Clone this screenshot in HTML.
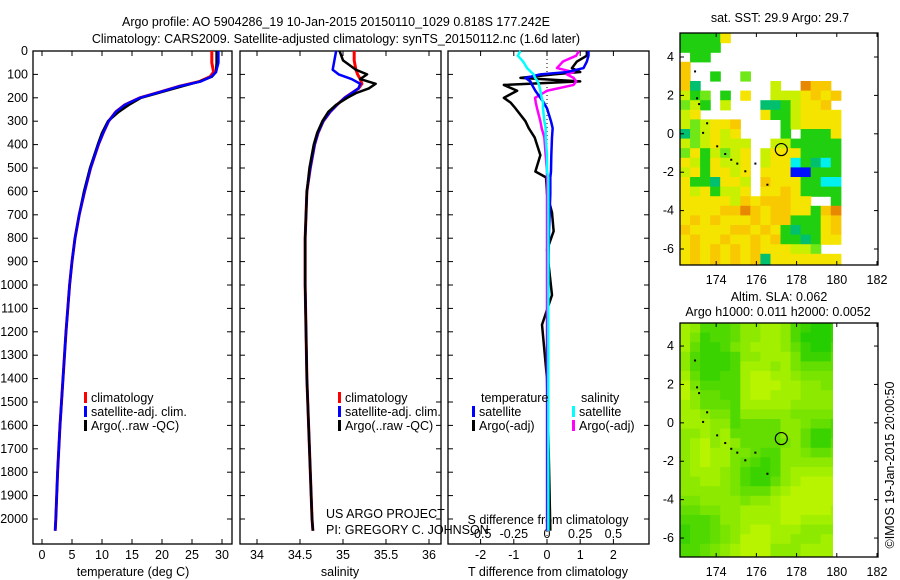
<!DOCTYPE html>
<html><head><meta charset="utf-8"><style>
body{margin:0;background:#fff}
svg{display:block;font-family:"Liberation Sans",sans-serif;font-size:12.5px}
</style></head><body>
<svg id="c" width="900" height="580"></svg>
<script>
// ---------- data ----------
const tDepth=[0,50,90,110,130,150,175,200,230,260,300,350,400,500,600,700,800,900,1000,1200,1400,1600,1800,2000,2050];
const tClim=[28.3,28.3,28.6,28.0,26.3,23,19.7,16.3,13.8,12.3,11.1,10.2,9.4,8.1,7.1,6.2,5.5,5.0,4.6,4.0,3.5,3.0,2.6,2.3,2.2];
const tSat=[29.4,29.4,29.0,28.2,26.5,23,19.7,16.3,13.8,12.3,11.1,10.2,9.4,8.1,7.1,6.2,5.5,5.0,4.6,4.0,3.5,3.0,2.6,2.3,2.2];
const tArgo=[29.1,29.1,29.0,28.3,26.3,23.5,20,16.5,14.5,12.8,11.0,10.0,9.3,8.0,7.0,6.2,5.5,5.0,4.6,4.0,3.5,3.0,2.6,2.3,2.2];
const sDepth=[0,40,80,100,120,140,160,180,200,230,260,300,350,400,500,600,800,1000,1200,1400,1600,1800,2000,2050];
const sClim=[35.13,35.13,35.15,35.17,35.2,35.22,35.18,35.1,35.02,34.93,34.85,34.77,34.71,34.67,34.62,34.58,34.56,34.56,34.57,34.58,34.6,34.62,34.64,34.65];
const sSat=[34.92,34.9,34.88,34.95,35.1,35.2,35.18,35.1,35.02,34.93,34.85,34.77,34.71,34.67,34.62,34.58,34.56,34.56,34.57,34.58,34.6,34.62,34.64,34.65];
const sArgo=[34.96,35.0,35.15,35.28,35.2,35.38,35.3,35.15,35.05,34.92,34.83,34.76,34.7,34.66,34.61,34.58,34.56,34.56,34.57,34.58,34.6,34.62,34.64,34.65];
const dDepth=[0,20,45,73,90,100,115,130,145,170,200,220,245,300,330,370,445,515,540,610,690,770,850,1043,1170,1400,1700,2050];
const tdSat=[1.25,1.25,1.2,1.1,0.6,-0.2,-0.65,-0.5,-0.45,-0.35,-0.2,-0.1,0.0,0.12,0.17,0.15,0.13,0.12,0.1,0.1,0.08,0.06,0.05,0.04,0.03,0.02,0.02,0.02];
const tdArgo=[1.2,1.2,0.9,0.75,1.0,0.2,-0.8,1.0,-1.3,-0.9,-1.3,-1.1,-0.95,-0.65,-0.55,-0.37,-0.2,-0.35,-0.03,0.0,0.15,0.2,0.0,0.15,-0.15,0.0,0.05,0.1];
const sdSat=[-0.2,-0.22,-0.18,-0.15,-0.12,-0.1,-0.09,-0.07,-0.06,-0.05,-0.04,-0.03,-0.03,-0.02,-0.01,-0.01,0.0,0.0,0.01,0.01,0.01,0.01,0.01,0.01,0.01,0.01,0.01,0.01];
const sdArgo=[0.24,0.22,0.12,0.075,0.2,0.15,0.2,0.22,0.2,0.0,-0.09,-0.085,-0.075,-0.05,-0.04,-0.02,-0.01,0.0,0.0,0.0,0.0,0.0,0.0,0.0,0.0,0.0,0.0,0.0];
const depthTicks=[0,100,200,300,400,500,600,700,800,900,1000,1100,1200,1300,1400,1500,1600,1700,1800,1900,2000];
const tTicks=[0,5,10,15,20,25,30];
const sTicks=[34,34.5,35,35.5,36];
const tdTicks=[-2,-1,0,1,2];
const sdTicks=[-0.5,-0.25,0,0.25,0.5];
const sdTickLabels=["-0.5","-0.25","0","0.25","0.5"];
const latTicks=[4,2,0,-2,-4,-6];
const lonTicks=[174,176,178,180,182];
// SST grid: 0.5deg cells from lon 172.2, lat 5.25 downward; '.' = missing
const sstRows=[
"44447...........","4444............",".44.............","8...............",
"8..4..5.........","83.......6..988.","645.4.7..6667878","564.6...3346778.",
"67......74467777","656778....467777","356767....4.4447","6567666..6644444",
"5746567.67774444","7647667.67724324","6747767.77711444","7443776.87774422",
"7674667.77874444","7777768788877..4","7777889878877489","7878777878844478",
"8777788787434478","7877877878443477","78787878777665..","7878787837777777","7878787837777777"];
// SLA grid: 0.5deg cells from lon 172.2, lat 5.2 downward (0=dark green, 9=yellow-green)
const slaRows=["7633346677632112","7523346677631112","7422356777642113","6322236677752224",
"6322237776754444","7422337887765555","8533337888776655","8644337887776666","7644437777766666",
"7765536666655555","7776634444665443","6676744444664223","6786764444564224","6787755433665445",
"6787754323666666","6777653223677777","6677653224678888","6666654446788888","5566665667888888",
"4455667777888887","3334667777887777","2334567887776666","2334568887766677","3345678886667777","3345678886667777"];
const trackLon=[172.9,173.0,173.1,173.3,173.5,174.0,174.4,174.7,175.0,175.4,175.9,176.5,177.2];
const trackLat=[3.3,1.9,1.6,0.1,0.6,-0.6,-1.0,-1.3,-1.5,-1.9,-1.5,-2.6,-0.85];

// ---------- helpers ----------
const svg=document.getElementById('c');const NS='http://www.w3.org/2000/svg';
function mk(tag,at,parent){const e=document.createElementNS(NS,tag);for(const k in at)e.setAttribute(k,at[k]);(parent||svg).appendChild(e);return e;}
function txt(x,y,s,anchor,name,extra){const e=mk('text',Object.assign({x:x,y:y,'text-anchor':anchor||'start'},extra||{}));e.textContent=s;

return e;}
const yTop=51,yPerM=0.234;
const yD=d=>yTop+d*yPerM;
function panel(x0,x1,name){const r=mk('rect',{x:x0,y:yTop,width:x1-x0,height:493,fill:'none',stroke:'#000','stroke-width':1.3});


depthTicks.forEach(d=>{mk('line',{x1:x0,x2:x0+5,y1:yD(d),y2:yD(d),stroke:'#000'});mk('line',{x1:x1,x2:x1-5,y1:yD(d),y2:yD(d),stroke:'#000'});});}
function line(xs,ds,sx,color,w,name){const p=mk('polyline',{points:xs.map((v,i)=>sx(v)+','+yD(ds[i])).join(' '),fill:'none',stroke:color,'stroke-width':w,'stroke-linejoin':'round'});

}
function xTicks(ticks,sx,x0,labels,y,name){ticks.forEach((t,i)=>{const x=sx(t);mk('line',{x1:x,x2:x,y1:544,y2:539,stroke:'#000'});mk('line',{x1:x,x2:x,y1:51,y2:56,stroke:'#000'});
txt(x,y,labels?labels[i]:String(t),'middle',name);});}

// ---------- titles ----------
txt(336,26,'Argo profile: AO 5904286_19 10-Jan-2015 20150110_1029 0.818S 177.242E','middle','figure-title');
txt(336,43,'Climatology: CARS2009. Satellite-adjusted climatology: synTS_20150112.nc (1.6d later)','middle','figure-subtitle');

// ---------- panel 1 ----------
const sxT=v=>42+v*6;
panel(33,232,'temperature-panel');
depthTicks.forEach(d=>txt(28,yD(d)+4,String(d),'end','depth-tick-label'));
xTicks(tTicks,sxT,33,null,559,'temperature-tick-label');
txt(133,576,'temperature (deg C)','middle','temperature-axis-title');
line(tClim,tDepth,sxT,'#f00',3,'temperature-climatology-line');
line(tArgo,tDepth,sxT,'#000',2.5,'temperature-argo-line');
line(tSat,tDepth,sxT,'#00f',2.5,'temperature-satellite-line');
function legend(x,y,color,label,name){const r=mk('rect',{x:x,y:y-10,width:3,height:11,fill:color});


txt(x+7,y,label,'start',name);}
legend(84,402,'#f00','climatology','legend-climatology');
legend(84,416,'#00f','satellite-adj. clim.','legend-satellite');
legend(84,430,'#000','Argo(..raw -QC)','legend-argo');

// ---------- panel 2 ----------
const sxS=v=>257+(v-34)*86;
panel(240,441,'salinity-panel');
xTicks(sTicks,sxS,240,null,559,'salinity-tick-label');
txt(340,576,'salinity','middle','salinity-axis-title');
line(sClim,sDepth,sxS,'#f00',3,'salinity-climatology-line');
line(sSat,sDepth,sxS,'#00f',2.5,'salinity-satellite-line');
line(sArgo,sDepth,sxS,'#000',2.5,'salinity-argo-line');
legend(338,402,'#f00','climatology','legend2-climatology');
legend(338,416,'#00f','satellite-adj. clim.','legend2-satellite');
legend(338,430,'#000','Argo(..raw -QC)','legend2-argo');
txt(326,518,'US ARGO PROJECT','start','project-credit');
txt(326,534,'PI: GREGORY C. JOHNSON','start','pi-credit');

// ---------- panel 3 ----------
const sxTD=v=>547+v*33.2, sxSD=v=>547+v*132.7;
panel(448,649,'difference-panel');
mk('line',{x1:547,x2:547,y1:51,y2:544,stroke:'#000','stroke-dasharray':'1,3'});
xTicks(tdTicks,sxTD,448,null,559,'t-difference-tick-label');
sdTicks.forEach((t,i)=>txt(sxSD(t),538,sdTickLabels[i],'middle','s-difference-tick-label'));
txt(548,524,'S difference from climatology','middle','s-difference-axis-title');
txt(548,576,'T difference from climatology','middle','t-difference-axis-title');
line(tdArgo,dDepth,sxTD,'#000',2.5,'t-difference-argo-line');
line(sdArgo,dDepth,sxSD,'#f0f',2.5,'s-difference-argo-line');
line(tdSat,dDepth,sxTD,'#00f',2.5,'t-difference-satellite-line');
line(sdSat,dDepth,sxSD,'#0ff',2.5,'s-difference-satellite-line');
txt(481,402,'temperature','start','legend3-temperature-heading');
txt(581,402,'salinity','start','legend3-salinity-heading');
legend(472,416,'#00f','satellite','legend3-t-satellite');
legend(472,430,'#000','Argo(-adj)','legend3-t-argo');
legend(572,416,'#0ff','satellite','legend3-s-satellite');
legend(572,430,'#f0f','Argo(-adj)','legend3-s-argo');

// ---------- maps ----------
const sstColors={'1':'#0010ff','2':'#00f0f0','3':'#00c070','4':'#20d010','5':'#70e818','6':'#c8f000','7':'#f4e400','8':'#f8c800','9':'#e88800'};
function slaColor(v){const r=Math.round(16+v*21),g=Math.round(200+v*5.5);return `rgb(${r},${g},0)`;}
function map(top,bottom,latTop,name,rows,cell,colorFn,dataRight){
 const x0=680,x1=878,lonL=172.2,pxLon=20.1,pxLat=19.2;
 const sx=lon=>x0+(lon-lonL)*pxLon, sy=lat=>top+(latTop-lat)*pxLat;
 const cid='clip-'+name;const cp=mk('clipPath',{id:cid});mk('rect',{x:x0,y:top,width:dataRight-x0,height:bottom-top},cp);
 const g=mk('g',{'clip-path':'url(#'+cid+')'});
 
 
 rows.forEach((row,j)=>{[...row].forEach((ch,i)=>{if(ch==='.')return;
  mk('rect',{x:sx(lonL+i*cell),y:sy(latTop-j*cell),width:cell*pxLon+0.6,height:cell*pxLat+0.6,fill:colorFn(ch)},g);});});
 trackLon.slice(0,-1).forEach((lo,i)=>mk('rect',{x:sx(lo),y:sy(trackLat[i]),width:2,height:2,fill:'#000'},g));
 const c=mk('circle',{cx:sx(177.24),cy:sy(-0.82),r:6,fill:'none',stroke:'#000','stroke-width':1.2});
 
 
 const fr=mk('rect',{x:x0,y:top,width:x1-x0,height:bottom-top,fill:'none',stroke:'#000','stroke-width':1.3});
 
 
 latTicks.forEach(l=>{const y=sy(l);mk('line',{x1:x0,x2:x0+4,y1:y,y2:y,stroke:'#000'});mk('line',{x1:x1,x2:x1-4,y1:y,y2:y,stroke:'#000'});txt(674,y+4,String(l),'end',name+'-lat-label');});
 lonTicks.forEach(l=>{const x=sx(l);mk('line',{x1:x,x2:x,y1:bottom,y2:bottom-4,stroke:'#000'});mk('line',{x1:x,x2:x,y1:top,y2:top+4,stroke:'#000'});txt(x,bottom+19,String(l),'middle',name+'-lon-label');});
}
map(33,265,5.25,'sst-map',sstRows,0.5,ch=>sstColors[ch],878);
txt(780,22,'sat. SST: 29.9 Argo: 29.7','middle','sst-map-title');
map(323,557,5.2,'sla-map',slaRows,0.5,ch=>slaColor(+ch),833);
txt(779,301,'Altim. SLA: 0.062','middle','sla-map-title');
txt(778,316,'Argo h1000: 0.011 h2000: 0.0052','middle','sla-map-subtitle');
txt(0,0,'©IMOS 19-Jan-2015 20:00:50','middle','imos-credit',{transform:'translate(894,465) rotate(-90)'});
</script>
</body></html>
